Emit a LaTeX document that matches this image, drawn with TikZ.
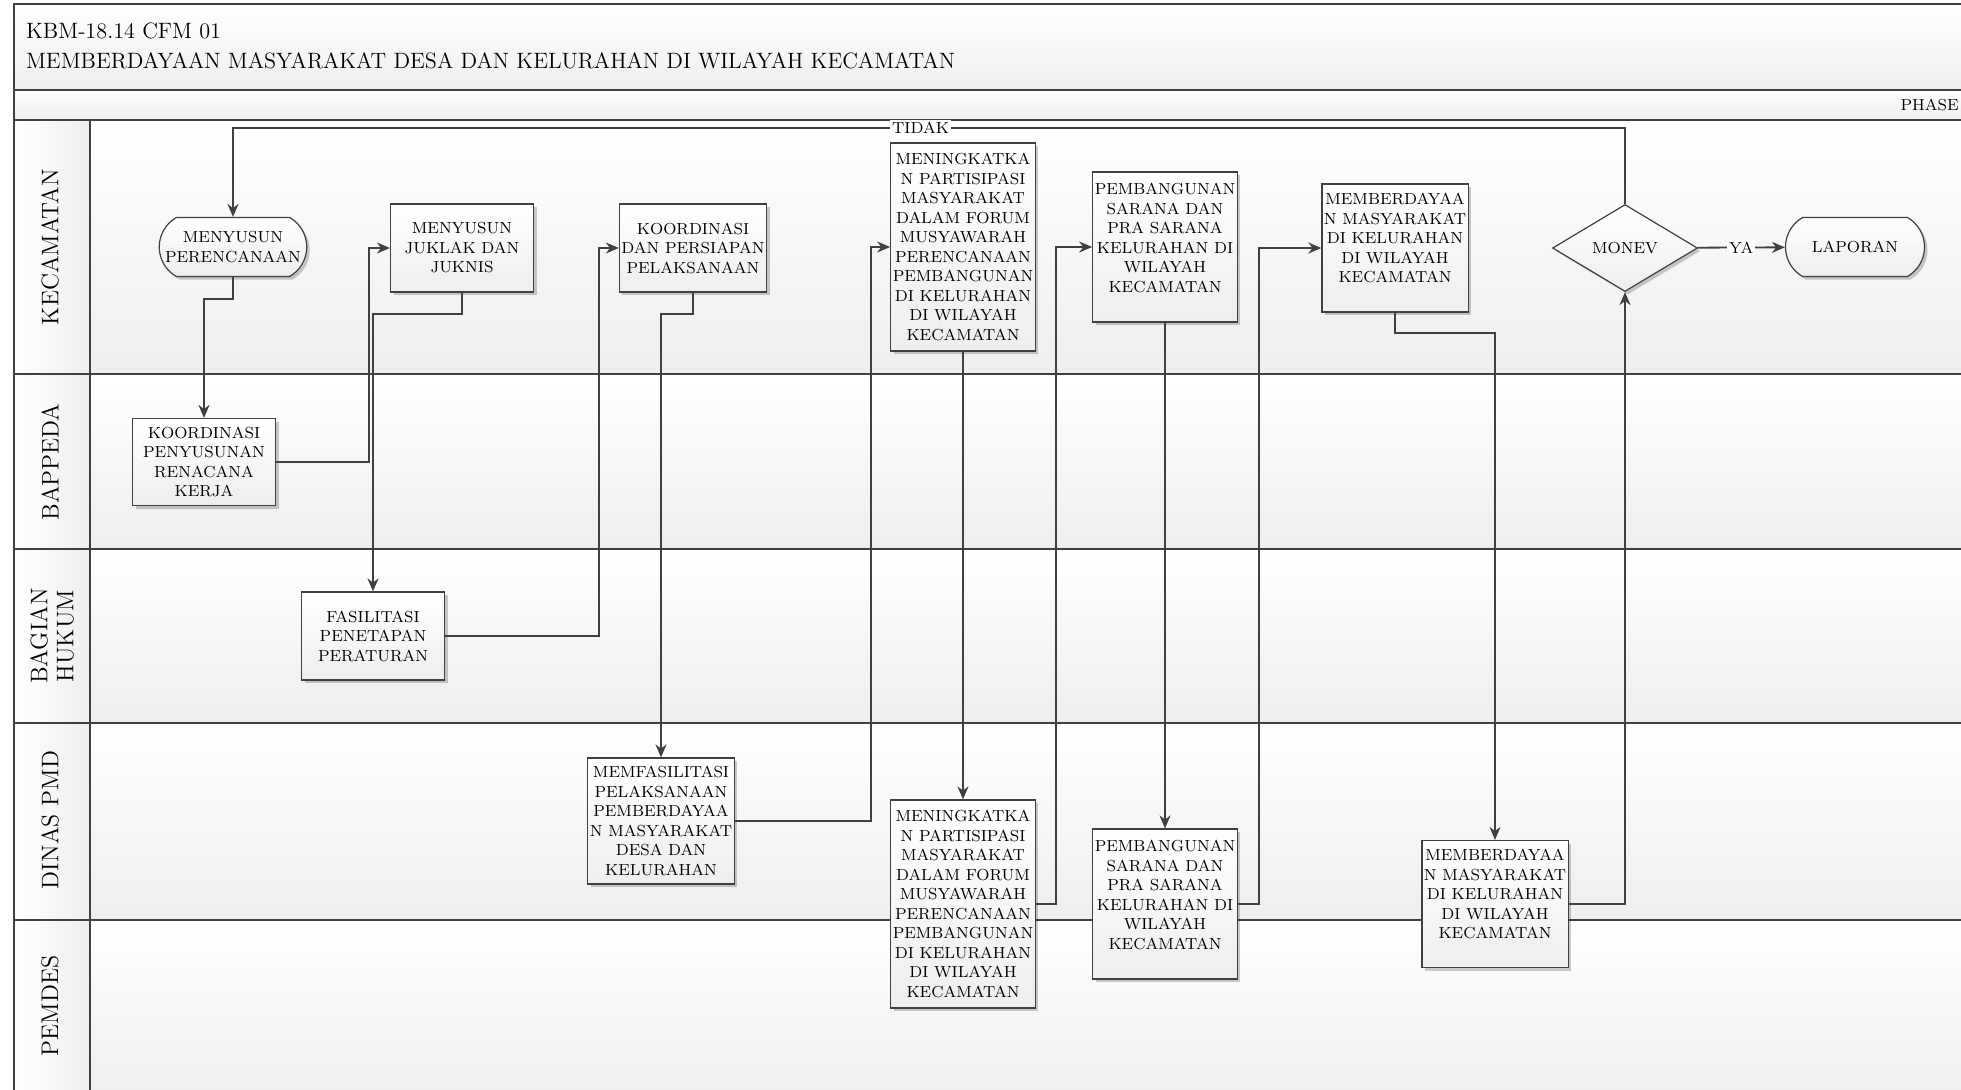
\documentclass[tikz,border=0pt]{standalone}
\usetikzlibrary{arrows.meta,shapes.geometric,shapes.misc,shadows}
\definecolor{flowK}{RGB}{64,64,64}
\definecolor{laneG}{RGB}{238,238,238}

\begin{document}
\begin{tikzpicture}[x=0.5pt,y=-0.5pt,>={Stealth[length=6.5pt,width=5.5pt]},
  box/.style={draw=flowK,line width=0.6pt,top color=white,bottom color=laneG,
    drop shadow={shadow xshift=1.5pt,shadow yshift=-1.5pt,fill=black,opacity=0.2},
    minimum width=71.5pt,inner sep=1pt,align=center,font=\fontsize{8}{9.75}\selectfont},
  term/.style={box,rounded rectangle,rounded rectangle arc length=120,minimum height=29.5pt},
  decide/.style={box,diamond,minimum width=72.5pt,minimum height=43.5pt,inner sep=0pt},
  flow/.style={->,draw=flowK,line width=0.9pt},
  lbl/.style={fill=white,inner sep=1pt,font=\fontsize{8}{9}\selectfont},
  lanelbl/.style={rotate=90,align=center,font=\fontsize{12}{13}\selectfont}]
\useasboundingbox (0,0) rectangle (1961,1089);
\clip (0,0) rectangle (1961,1089);
% frame, title and phase bands
\shade[top color=white,bottom color=laneG] (14,4) rectangle (1975,90);
\shade[top color=white,bottom color=laneG] (14,90) rectangle (1975,120);
\foreach \ya/\yb in {120/374,374/549,549/723,723/920,920/1100} {
  \shade[top color=white,bottom color=laneG] (90,\ya) rectangle (1975,\yb);
  \shade[left color=white,right color=laneG] (14,\ya) rectangle (90,\yb);
}
\draw[flowK,line width=1pt] (1975,4) -- (14,4) -- (14,1100);
\foreach \y in {90,120} \draw[flowK,line width=1pt] (14,\y) -- (1975,\y);
\foreach \y in {374,549,723,920} \draw[flowK,line width=0.9pt] (14,\y) -- (1975,\y);
\draw[flowK,line width=0.8pt] (90,120) -- (90,1100);
\node[anchor=west,font=\fontsize{11.1}{13}\selectfont] at (19,31) {KBM-18.14 CFM 01};
\node[anchor=west,font=\fontsize{11.1}{13}\selectfont] at (19,61) {MEMBERDAYAAN MASYARAKAT DESA DAN KELURAHAN DI WILAYAH KECAMATAN};
\node[anchor=east,inner sep=1pt,font=\fontsize{8}{9}\selectfont] at (1961,105) {PHASE};
% lanes
\node[lanelbl] at (50,247) {KECAMATAN};
\node[lanelbl] at (50,462) {BAPPEDA};
\node[lanelbl] at (52,636) {BAGIAN\\HUKUM};
\node[lanelbl] at (50,820) {DINAS PMD};
\node[lanelbl] at (50,1006) {PEMDES};
% kecamatan
\node[term] (susun) at (233,247) {MENYUSUN\\PERENCANAAN};
\node[box,minimum height=44pt] (juklak) at (462,248) {MENYUSUN\\JUKLAK DAN\\JUKNIS};
\node[box,minimum height=44pt] (koord) at (693,248) {KOORDINASI\\DAN PERSIAPAN\\PELAKSANAAN};
\node[box,minimum height=104pt] (tingkatK) at (963,247) {MENINGKATKA\\N PARTISIPASI\\MASYARAKAT\\DALAM FORUM\\MUSYAWARAH\\PERENCANAAN\\PEMBANGUNAN\\DI KELURAHAN\\DI WILAYAH\\KECAMATAN};
\node[box,minimum height=75pt,text depth=9pt] (bangunK) at (1165,247) {PEMBANGUNAN\\SARANA DAN\\PRA SARANA\\KELURAHAN DI\\WILAYAH\\KECAMATAN};
\node[box,minimum height=64pt,text depth=10pt] (dayaK) at (1395,248) {MEMBERDAYAA\\N MASYARAKAT\\DI KELURAHAN\\DI WILAYAH\\KECAMATAN};
\node[decide] (monev) at (1625,248) {MONEV};
\node[term] (lapor) at (1855,247) {LAPORAN};
% bappeda, bagian hukum
\node[box,minimum height=43.5pt] (rencana) at (204,462) {KOORDINASI\\PENYUSUNAN\\RENACANA\\KERJA};
\node[box,minimum height=44pt] (fasil) at (373,636) {FASILITASI\\PENETAPAN\\PERATURAN};
% dinas pmd
\node[box,minimum height=63pt] (memfas) at (661,821) {MEMFASILITASI\\PELAKSANAAN\\PEMBERDAYAA\\N MASYARAKAT\\DESA DAN\\KELURAHAN};
\node[box,minimum height=104pt] (tingkatP) at (963,904) {MENINGKATKA\\N PARTISIPASI\\MASYARAKAT\\DALAM FORUM\\MUSYAWARAH\\PERENCANAAN\\PEMBANGUNAN\\DI KELURAHAN\\DI WILAYAH\\KECAMATAN};
\node[box,minimum height=75pt,text depth=9pt] (bangunP) at (1165,904) {PEMBANGUNAN\\SARANA DAN\\PRA SARANA\\KELURAHAN DI\\WILAYAH\\KECAMATAN};
\node[box,minimum height=63.5pt,text depth=10pt] (dayaP) at (1495,904) {MEMBERDAYAA\\N MASYARAKAT\\DI KELURAHAN\\DI WILAYAH\\KECAMATAN};
% flow
\draw[flow] (susun.south) -- ++(0,22) -| (rencana.north);
\draw[flow] (rencana.east) -- ++(93,0) |- (juklak.west);
\draw[flow] (juklak.south) -- ++(0,21) -| (fasil.north);
\draw[flow] (fasil.east) -- ++(154,0) |- (koord.west);
\draw[flow] (koord.south) -- ++(0,21) -| (memfas.north);
\draw[flow] (memfas.east) -- ++(136,0) |- (tingkatK.west);
\draw[flow] (tingkatK) -- (tingkatP);
\draw[flow] (tingkatP.east) -- ++(20,0) |- (bangunK.west);
\draw[flow] (bangunK) -- (bangunP);
\draw[flow] (bangunP.east) -- ++(21,0) |- (dayaK.west);
\draw[flow] (dayaK.south) -- ++(0,20) -| (dayaP.north);
\draw[flow] (dayaP.east) -| (monev.south);
\draw[flow] (monev) -- node[lbl]{YA} (lapor);
\draw[flow] (monev.north) -- ++(0,-76) -| node[lbl,pos=0.253]{TIDAK} (susun.north);
\end{tikzpicture}
\end{document}
